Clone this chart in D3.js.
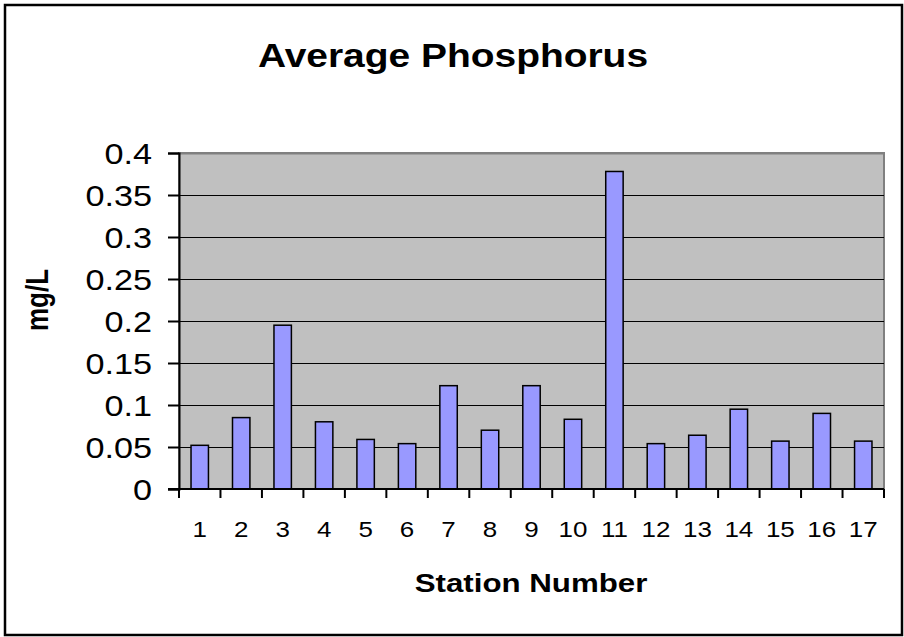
<!DOCTYPE html>
<html>
<head>
<meta charset="utf-8">
<script src="https://cdn.jsdelivr.net/npm/d3@7"></script>
<style>
  body { margin: 0; background: #fff; }
  text { font-family: Arial, "Liberation Sans", sans-serif; }
</style>
</head>
<body>
<svg id="chart" width="904" height="637"></svg>
<script>
// station numbers along the x axis
var stations = ["1","2","3","4","5","6","7","8","9","10","11","12","13","14","15","16","17"];
// average phosphorus, mg/L
var phosphorus = [0.052, 0.085, 0.195, 0.080, 0.059, 0.054, 0.123, 0.070, 0.123, 0.083,
                  0.378, 0.054, 0.064, 0.095, 0.057, 0.090, 0.057];
var yTicks = [0, 0.05, 0.1, 0.15, 0.2, 0.25, 0.3, 0.35, 0.4];

var svg = d3.select('#chart');
var plot = {left: 179, top: 153, right: 884, bottom: 489};
var stretch = 1.18; // the original chart is stretched sideways, text too

// place a text with the sideways stretch
function stretchedText(px, py, str, size, bold, anchor, rotate) {
    return svg.append('text')
        .attr('transform', 'translate(' + px + ',' + py + ') scale(' + stretch + ',1)' +
              (rotate ? ' rotate(-90)' : ''))
        .attr('text-anchor', anchor || 'middle')
        .style('font-size', size + 'px')
        .style('font-weight', bold ? 'bold' : 'normal')
        .style('fill', 'black')
        .text(str);
}

// outer chart border
svg.append('rect')
    .attr('x', 5).attr('y', 5)
    .attr('width', 897).attr('height', 630)
    .style('fill', 'white')
    .style('stroke', 'black')
    .style('stroke-width', '2.5px');

var x = d3.scaleBand()
    .domain(stations)
    .range([plot.left, plot.right])
    .paddingInner(0.58)
    .paddingOuter(0.29);

var xTick = d3.scaleLinear()
    .domain([0, stations.length])
    .range([plot.left, plot.right]);

var y = d3.scaleLinear()
    .domain([0, 0.4])
    .range([plot.bottom, plot.top]);

// plot area
svg.append('rect')
    .attr('x', plot.left).attr('y', plot.top)
    .attr('width', plot.right - plot.left)
    .attr('height', plot.bottom - plot.top)
    .style('fill', '#c0c0c0')
    .style('stroke', '#808080')
    .style('stroke-width', '2px');

// gridlines
svg.append('g')
    .selectAll('line')
    .data(yTicks.slice(1))
    .enter()
    .append('line')
    .attr('x1', plot.left).attr('x2', plot.right)
    .attr('y1', function(d){ return Math.round(y(d)) + 0.5; })
    .attr('y2', function(d){ return Math.round(y(d)) + 0.5; })
    .style('stroke', function(d){ return d === 0.4 ? '#808080' : 'black'; })
    .style('stroke-width', function(d){ return d === 0.4 ? '2px' : '1px'; });

// bars
svg.append('g')
    .selectAll('rect')
    .data(phosphorus)
    .enter()
    .append('rect')
    .attr('x', function(d, i){ return x(stations[i]); })
    .attr('y', function(d){ return y(d); })
    .attr('width', x.bandwidth())
    .attr('height', function(d){ return y(0) - y(d); })
    .style('fill', '#9999ff')
    .style('stroke', 'black')
    .style('stroke-width', '1.5px');

// y axis, labels drawn separately so they can be stretched
var yAxis = d3.axisLeft(y)
    .tickValues(yTicks)
    .tickFormat('')
    .tickSize(11);

svg.append('g')
    .attr('transform', 'translate(' + plot.left + ',0)')
    .call(yAxis)
    .call(function(g){
        g.select('.domain').style('stroke-width', '2px');
        g.selectAll('.tick line').style('stroke-width', '2px');
    });

yTicks.forEach(function(t){
    stretchedText(152, y(t) + 10.5, String(+t.toFixed(2)), 29, false, 'end');
});

// x axis: ticks between categories
var xg = svg.append('g');
xg.append('line')
    .attr('x1', plot.left - 11).attr('x2', plot.right)
    .attr('y1', plot.bottom).attr('y2', plot.bottom)
    .style('stroke', 'black')
    .style('stroke-width', '2px');
xg.selectAll('line.xt')
    .data(d3.range(stations.length + 1))
    .enter()
    .append('line')
    .attr('class', 'xt')
    .attr('x1', function(d){ return xTick(d); })
    .attr('x2', function(d){ return xTick(d); })
    .attr('y1', plot.bottom)
    .attr('y2', plot.bottom + 9)
    .style('stroke', 'black')
    .style('stroke-width', '2px');

stations.forEach(function(s){
    stretchedText(x(s) + x.bandwidth() / 2, 537, s, 22, false, 'middle');
});

// titles
stretchedText(453, 67, 'Average Phosphorus', 33, true, 'middle');
stretchedText(531, 592, 'Station Number', 26.5, true, 'middle');
stretchedText(48, 300, 'mg/L', 26, true, 'middle', true);
</script>
</body>
</html>
